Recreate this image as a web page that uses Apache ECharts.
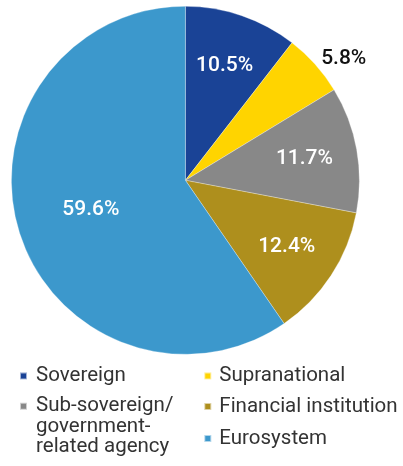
<!DOCTYPE html>
<html><head><meta charset="utf-8">
<script src="https://cdn.jsdelivr.net/npm/echarts@6/dist/echarts.min.js"></script>
<style>html,body{margin:0;padding:0;background:#fff}#c{width:403px;height:466px}</style>
</head><body><div id="c"></div>
<script>
const categories = ['Sovereign', 'Supranational', 'Sub-sovereign/government-related agency', 'Financial institution', 'Eurosystem'];
const shares = [10.5, 5.8, 11.7, 12.4, 59.6];
const colors = ['#1a4396', '#ffd400', '#888888', '#ae8f1d', '#3c98cc'];
const labelTexts = ['10.5%', '5.8%', '11.7%', '12.4%', '59.6%'];

const chart = echarts.init(document.getElementById('c'), null, {renderer: 'canvas'});
const FONT = 'Roboto';
const LH = 20.5;
const C = [185.4, 180.3];
const R = 174;

function baseData(transparent) {
  return categories.map((n, i) => ({
    name: n, value: shares[i],
    itemStyle: {color: transparent ? 'rgba(0,0,0,0)' : colors[i]}
  }));
}

const labelData = baseData(true).map((d, i) => {
  if (i === 4) { d.label = {show: false}; }
  else if (i === 1) {
    d.label = {show: true, position: 'outside', color: '#111', fontWeight: 500, distanceToLabelLine: 0};
    d.labelLine = {show: false, length: 8, length2: 0};
  }
  return d;
});
const euroData = baseData(true).map((d, i) => {
  d.label = {show: i === 4};
  return d;
});

function legendItem(name, left, top, pad, formatter) {
  const o = {
    data: [name], left: left, top: top, orient: 'vertical', padding: 0,
    itemWidth: 7, itemHeight: 7, icon: 'rect', selectedMode: false,
    textStyle: {fontFamily: FONT, fontSize: 20.5, color: '#333', lineHeight: LH, padding: pad}
  };
  if (formatter) o.formatter = formatter;
  return o;
}

chart.setOption({
  animation: false,
  backgroundColor: '#fff',
  legend: [
    legendItem(categories[0], 19, 365.4, [0, 0, 0, 4]),
    legendItem(categories[2], 19, 354.75, [0, 0, 0, 4], () => '\n\nSub-sovereign/\ngovernment-\nrelated agency'),
    legendItem(categories[1], 203.3, 365.4, [0, 0, 0, 3]),
    legendItem(categories[3], 203.3, 396, [0, 0, 0, 3]),
    legendItem(categories[4], 203.3, 428, [0, 0, 0, 3])
  ],
  series: [
    {
      type: 'pie', center: C, radius: [0, R], startAngle: 90, clockwise: true,
      silent: true, label: {show: false}, labelLine: {show: false},
      itemStyle: {borderColor: 'rgba(255,255,255,0.6)', borderWidth: 0.5},
      data: baseData(false)
    },
    {
      type: 'pie', center: C, radius: [62, R], startAngle: 90, clockwise: true,
      silent: true, avoidLabelOverlap: false,
      label: {show: true, position: 'inside', fontFamily: FONT, fontSize: 21, fontWeight: 500, color: '#fff',
              formatter: p => labelTexts[p.dataIndex]},
      labelLine: {show: false},
      data: labelData
    },
    {
      type: 'pie', center: C, radius: [18, R], startAngle: 90, clockwise: true,
      silent: true, avoidLabelOverlap: false,
      label: {position: 'inside', fontFamily: FONT, fontSize: 21, fontWeight: 500, color: '#fff',
              formatter: p => labelTexts[p.dataIndex]},
      labelLine: {show: false},
      data: euroData
    }
  ]
});
</script>
</body></html>
